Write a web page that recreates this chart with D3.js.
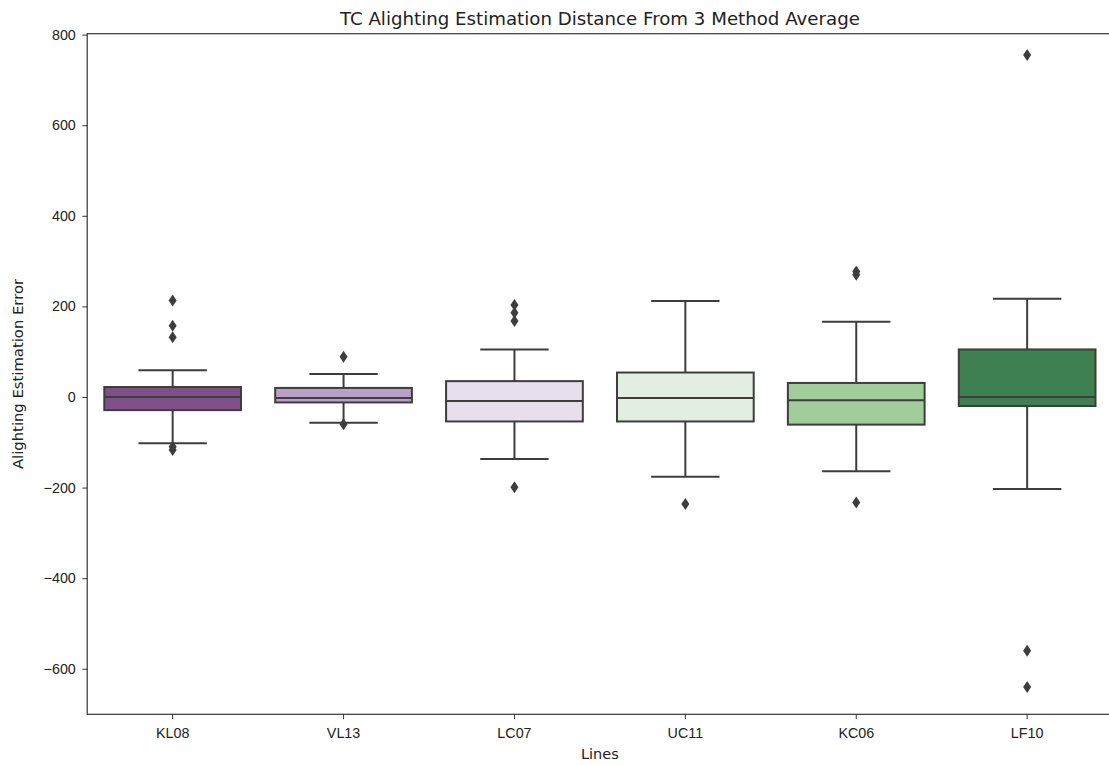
<!DOCTYPE html>
<html>
<head>
<meta charset="utf-8">
<script src="https://cdn.jsdelivr.net/npm/d3@7"></script>
<style>
  html, body { margin: 0; padding: 0; background: #fff; }
  svg { display: block; font-family: "DejaVu Sans", sans-serif; }
</style>
</head>
<body>
<svg id="chart" width="1109" height="765"></svg>
<script>
// Lines shown on the x axis
const lines = ["KL08", "VL13", "LC07", "UC11", "KC06", "LF10"];

// Box statistics per line (alighting estimation error)
const q1Values      = [-29, -12, -54, -54, -61, -20];
const medianValues  = [0, -2, -9, -2, -7, 0];
const q3Values      = [22, 20, 35, 54, 31, 105];
const whiskerLow    = [-102, -57, -137, -176, -164, -203];
const whiskerHigh   = [59, 51, 105, 212, 166, 217];

// Points beyond the whiskers, per line
const outlierValues = [
  [213, 157, 132, -110, -117],
  [89, -60],
  [203, 186, 168, -199],
  [-236],
  [277, 270, -233],
  [755, -560, -640]
];

// Fill colours (purple-green diverging palette)
const boxColors = ["#7f4f8a", "#b9a0c6", "#e8dfec", "#e2eee1", "#a1cd9b", "#3e804f"];

const yTicks = [-600, -400, -200, 0, 200, 400, 600, 800];

const margin = { left: 87.2, top: 33.7, right: 1112.6, bottom: 714.3 };
const svg = d3.select("#chart");
const ink = "#3d3d3d";
const textColor = "#222";
const labelSize = 14.3;

const x = d3.scaleBand().domain(lines).range([margin.left, margin.right]).paddingInner(0).paddingOuter(0);
const y = d3.scaleLinear().domain([-700.5, 802]).range([margin.bottom, margin.top]);

const boxW = x.bandwidth() * 0.8;
const capW = boxW * 0.5;

const data = lines.map((name, i) => ({
  name, q1: q1Values[i], med: medianValues[i], q3: q3Values[i],
  lo: whiskerLow[i], hi: whiskerHigh[i], out: outlierValues[i], color: boxColors[i]
}));

const cxOf = d => x(d.name) + x.bandwidth() / 2;

const boxes = svg.append("g").selectAll("g.box").data(data).join("g").attr("class", "box");

// whiskers
boxes.append("line")
  .attr("x1", cxOf).attr("x2", cxOf)
  .attr("y1", d => y(d.hi)).attr("y2", d => y(d.q3))
  .attr("stroke", ink).attr("stroke-width", 2);
boxes.append("line")
  .attr("x1", cxOf).attr("x2", cxOf)
  .attr("y1", d => y(d.q1)).attr("y2", d => y(d.lo))
  .attr("stroke", ink).attr("stroke-width", 2);
// caps
["hi", "lo"].forEach(k => {
  boxes.append("line")
    .attr("x1", d => cxOf(d) - capW / 2)
    .attr("x2", d => cxOf(d) + capW / 2)
    .attr("y1", d => y(d[k])).attr("y2", d => y(d[k]))
    .attr("stroke", ink).attr("stroke-width", 2);
});
// box bodies
boxes.append("rect")
  .attr("x", d => cxOf(d) - boxW / 2)
  .attr("width", boxW)
  .attr("y", d => y(d.q3))
  .attr("height", d => y(d.q1) - y(d.q3))
  .attr("fill", d => d.color)
  .attr("stroke", ink).attr("stroke-width", 2);
// medians
boxes.append("line")
  .attr("x1", d => cxOf(d) - boxW / 2)
  .attr("x2", d => cxOf(d) + boxW / 2)
  .attr("y1", d => y(d.med)).attr("y2", d => y(d.med))
  .attr("stroke", ink).attr("stroke-width", 2);
// outliers as thin diamonds
boxes.each(function(d) {
  const cx = cxOf(d);
  d3.select(this).selectAll("path.out").data(d.out).join("path")
    .attr("class", "out")
    .attr("d", v => {
      const cy = y(v);
      return `M${cx},${cy - 6}L${cx + 4},${cy}L${cx},${cy + 6}L${cx - 4},${cy}Z`;
    })
    .attr("fill", ink);
});

// axes
const yAxis = d3.axisLeft(y).tickValues(yTicks).tickSize(4.9).tickPadding(6.5)
  .tickFormat(d => d < 0 ? "\u2212" + Math.abs(d) : String(d));
const ya = svg.append("g").attr("transform", `translate(${margin.left},0)`).call(yAxis);
ya.select(".domain").remove();
ya.selectAll("line").attr("stroke", "#333").attr("stroke-width", 1);
ya.selectAll("text").attr("font-size", labelSize).attr("fill", textColor);

const xAxis = d3.axisBottom(x).tickSize(4.9).tickPadding(8.6);
const xa = svg.append("g").attr("transform", `translate(0,${margin.bottom})`).call(xAxis);
xa.select(".domain").remove();
xa.selectAll("line").attr("stroke", "#333").attr("stroke-width", 1);
xa.selectAll("text").attr("font-size", labelSize).attr("fill", textColor);

// frame
svg.append("rect")
  .attr("x", margin.left).attr("y", margin.top)
  .attr("width", margin.right - margin.left).attr("height", margin.bottom - margin.top)
  .attr("fill", "none").attr("stroke", "#333").attr("stroke-width", 1.2);

// titles
svg.append("text").attr("x", (margin.left + margin.right) / 2).attr("y", 25)
  .attr("text-anchor", "middle").attr("font-size", 18.2).attr("fill", textColor)
  .text("TC Alighting Estimation Distance From 3 Method Average");
svg.append("text").attr("x", (margin.left + margin.right) / 2).attr("y", 759)
  .attr("text-anchor", "middle").attr("font-size", 14.5).attr("fill", textColor)
  .text("Lines");
svg.append("text")
  .attr("transform", `translate(22.5,${(margin.top + margin.bottom) / 2}) rotate(-90)`)
  .attr("text-anchor", "middle").attr("font-size", 14.8).attr("fill", textColor)
  .text("Alighting Estimation Error");
</script>
</body>
</html>
